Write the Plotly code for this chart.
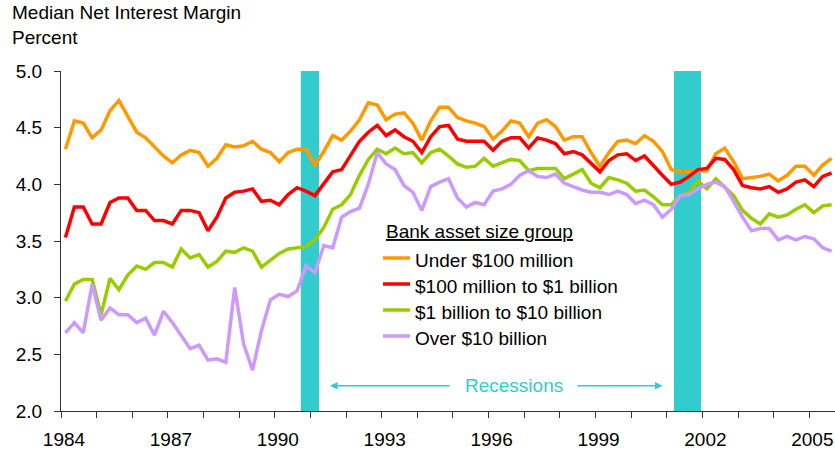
import plotly.graph_objects as go

start_year = 1984
under_100m = [4.31, 4.56, 4.54, 4.41, 4.48, 4.65, 4.74, 4.60, 4.46, 4.41, 4.33, 4.25, 4.19, 4.26, 4.30,
              4.28, 4.16, 4.23, 4.35, 4.33, 4.34, 4.38, 4.31, 4.28, 4.20, 4.28, 4.31, 4.31, 4.17, 4.29,
              4.43, 4.39, 4.47, 4.57, 4.72, 4.70, 4.57, 4.62, 4.63, 4.54, 4.39, 4.56, 4.68, 4.68, 4.59,
              4.56, 4.54, 4.51, 4.40, 4.47, 4.56, 4.54, 4.42, 4.54, 4.57, 4.51, 4.39, 4.42, 4.42, 4.28,
              4.16, 4.28, 4.38, 4.39, 4.36, 4.43, 4.38, 4.29, 4.13, 4.11, 4.11, 4.12, 4.12, 4.27, 4.32,
              4.20, 4.05, 4.06, 4.07, 4.09, 4.03, 4.08, 4.16, 4.16, 4.08, 4.17, 4.23]
m100_to_1b = [3.53, 3.80, 3.80, 3.65, 3.65, 3.84, 3.88, 3.88, 3.77, 3.77, 3.68, 3.68, 3.65, 3.77, 3.77,
              3.75, 3.59, 3.71, 3.88, 3.93, 3.94, 3.96, 3.85, 3.86, 3.82, 3.91, 3.97, 3.94, 3.90, 4.00,
              4.11, 4.13, 4.25, 4.38, 4.46, 4.52, 4.43, 4.48, 4.42, 4.38, 4.28, 4.42, 4.51, 4.52, 4.40,
              4.38, 4.38, 4.38, 4.30, 4.38, 4.41, 4.41, 4.32, 4.41, 4.39, 4.36, 4.27, 4.29, 4.26, 4.19,
              4.11, 4.21, 4.26, 4.27, 4.21, 4.25, 4.16, 4.08, 4.00, 4.02, 4.07, 4.13, 4.14, 4.23, 4.22,
              4.13, 3.99, 3.97, 3.96, 3.98, 3.93, 3.96, 4.02, 4.04, 3.98, 4.07, 4.10]
b1_to_10b = [2.97, 3.12, 3.16, 3.16, 2.85, 3.17, 3.07, 3.20, 3.28, 3.25, 3.31, 3.31, 3.27, 3.43, 3.35,
             3.38, 3.27, 3.32, 3.41, 3.40, 3.44, 3.41, 3.27, 3.33, 3.39, 3.43, 3.44, 3.45, 3.51, 3.62,
             3.78, 3.82, 3.91, 4.08, 4.22, 4.31, 4.27, 4.32, 4.27, 4.28, 4.19, 4.28, 4.31, 4.25, 4.18,
             4.15, 4.16, 4.23, 4.16, 4.19, 4.22, 4.21, 4.12, 4.14, 4.14, 4.14, 4.05, 4.09, 4.13, 4.01,
             3.97, 4.06, 4.04, 4.01, 3.94, 3.95, 3.89, 3.82, 3.82, 3.90, 3.93, 4.03, 3.96, 4.05, 3.98,
             3.90, 3.77, 3.70, 3.65, 3.74, 3.71, 3.73, 3.78, 3.82, 3.75, 3.81, 3.82]
over_10b = [2.69, 2.78, 2.69, 3.12, 2.80, 2.91, 2.85, 2.85, 2.78, 2.82, 2.67, 2.88, 2.78, 2.66, 2.55,
            2.58, 2.45, 2.46, 2.43, 3.09, 2.59, 2.36, 2.71, 2.98, 3.03, 3.01, 3.06, 3.28, 3.22, 3.46,
            3.44, 3.71, 3.76, 3.79, 4.00, 4.28, 4.18, 4.13, 3.99, 3.93, 3.77, 3.98, 4.02, 4.05, 3.88,
            3.80, 3.84, 3.82, 3.94, 3.96, 4.00, 4.08, 4.12, 4.07, 4.06, 4.09, 4.01, 3.98, 3.95, 3.93,
            3.93, 3.91, 3.94, 3.91, 3.83, 3.86, 3.82, 3.71, 3.78, 3.90, 3.91, 3.96, 4.00, 4.02, 3.98,
            3.85, 3.71, 3.59, 3.61, 3.61, 3.51, 3.54, 3.51, 3.54, 3.52, 3.44, 3.41]

series_names = ["Under $100 million", "$100 million to $1 billion",
                "$1 billion to $10 billion", "Over $10 billion"]
series_values = [under_100m, m100_to_1b, b1_to_10b, over_10b]
series_colors = ["#FF9900", "#FF0000", "#99CC00", "#CC99FF"]
legend_title = "Bank asset size group"

recessions = [(1990.73, 1991.24), (2001.2, 2001.96)]
year_ticks = list(range(1984, 2006))
year_labels = [str(y) if (y - 1984) % 3 == 0 else "" for y in year_ticks]
y_ticks = [2.0, 2.5, 3.0, 3.5, 4.0, 4.5, 5.0]
y_labels = ["2.0", "2.5", "3.0", "3.5", "4.0", "4.5", "5.0"]

x = [start_year + 0.125 + 0.25 * k for k in range(len(under_100m))]

FONT = "Liberation Sans, Arial, sans-serif"
TEAL = "#33CCCC"
FS = 19

fig = go.Figure()
for name, vals, col in zip(series_names, series_values, series_colors):
    fig.add_trace(go.Scatter(x=x, y=vals, mode="lines", name=name,
                             line=dict(color=col, width=3.5), showlegend=False))

for a, b in recessions:
    fig.add_shape(type="rect", xref="x", yref="paper", x0=a, x1=b, y0=0, y1=1,
                  fillcolor=TEAL, line=dict(width=0), layer="below")

# Recessions label + arrows
rec_y = 2.222
fig.add_annotation(x=1996.7, y=rec_y, xref="x", yref="y", text="Recessions",
                   showarrow=False, font=dict(family=FONT, size=FS, color=TEAL))
fig.add_annotation(x=1991.55, y=rec_y, ax=1994.95, ay=rec_y, xref="x", yref="y",
                   axref="x", ayref="y", text="", showarrow=True, arrowhead=2,
                   arrowsize=1, arrowwidth=1.5, arrowcolor=TEAL)
fig.add_annotation(x=2000.88, y=rec_y, ax=1998.45, ay=rec_y, xref="x", yref="y",
                   axref="x", ayref="y", text="", showarrow=True, arrowhead=2,
                   arrowsize=1, arrowwidth=1.5, arrowcolor=TEAL)

# Chart title
fig.add_annotation(x=-51 / 774, y=1.135, xref="paper", yref="paper",
                   text="Median Net Interest Margin<br>Percent", showarrow=False,
                   xanchor="left", yanchor="middle", align="left",
                   font=dict(family=FONT, size=FS, color="#000000"))

# Legend (drawn as lines + text in paper coordinates)
def px_x(p):
    return (p - 61) / 774

def px_y(p):
    return (411 - p) / 340

fig.add_annotation(x=px_x(384), y=px_y(231), xref="paper", yref="paper",
                   text="<u>" + legend_title + "</u>", showarrow=False,
                   xanchor="left", yanchor="middle",
                   font=dict(family=FONT, size=FS, color="#000000"))
row_text_y = [260, 286, 312, 338]
for name, col, ty in zip(series_names, series_colors, row_text_y):
    fig.add_shape(type="line", xref="paper", yref="paper",
                  x0=px_x(383), x1=px_x(410), y0=px_y(ty - 2), y1=px_y(ty - 2),
                  line=dict(color=col, width=3.5))
    fig.add_annotation(x=px_x(413), y=px_y(ty), xref="paper", yref="paper",
                       text=name, showarrow=False, xanchor="left", yanchor="middle",
                       font=dict(family=FONT, size=FS, color="#000000"))

fig.update_layout(
    width=835, height=453,
    margin=dict(l=61, r=0, t=71, b=42, autoexpand=False),
    paper_bgcolor="white", plot_bgcolor="white",
    font=dict(family=FONT, size=FS, color="#000000"),
    showlegend=False,
    xaxis=dict(range=[1984, 2005.72], tickmode="array", tickvals=year_ticks,
               ticktext=year_labels, ticks="outside", ticklen=6, tickcolor="#333333",
               showline=True, linecolor="#333333", linewidth=1, showgrid=False,
               zeroline=False, tickfont=dict(size=FS), automargin=False,
               ticklabelstandoff=5, ticklabelshift=3),
    yaxis=dict(range=[2, 5], tickmode="array", tickvals=y_ticks, ticktext=y_labels,
               ticks="outside", ticklen=6, tickcolor="#333333", showline=True,
               linecolor="#333333", linewidth=1, showgrid=False, zeroline=False,
               tickfont=dict(size=FS), automargin=False, ticklabelstandoff=8),
)

fig.write_html("out.html",
               config={"displayModeBar": False},
               post_script="document.body.style.margin='0';"
                           "document.body.style.overflow='hidden';")
